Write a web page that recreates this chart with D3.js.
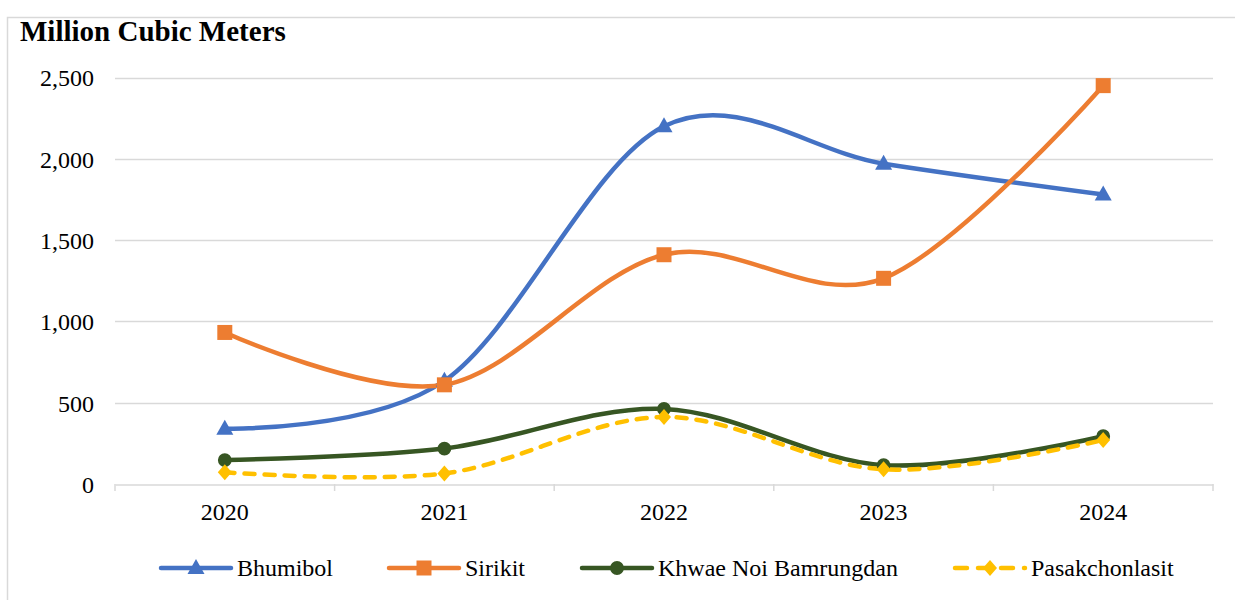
<!DOCTYPE html>
<html><head><meta charset="utf-8">
<script src="https://cdn.jsdelivr.net/npm/d3@7"></script>
<style>body{margin:0;background:#fff}svg{display:block}text{font-family:"Liberation Serif","Times New Roman",serif;fill:#000}</style>
</head><body><svg id="c" width="1235" height="600"></svg>
<script>
const years = ["2020","2021","2022","2023","2024"];
const bhumibol = [340, 635, 2200, 1970, 1780];
const sirikit = [932, 610, 1410, 1265, 2450];
const khwaeNoi = [147, 218, 462, 116, 294];
const pasak = [72, 65, 412, 90, 270];
const yTicks = [0, 500, 1000, 1500, 2000, 2500];
const seriesNames = ["Bhumibol","Sirikit","Khwae Noi Bamrungdan","Pasakchonlasit"];

const series = [
  {name: seriesNames[0], values: bhumibol, color: "#4472C4", marker: "triangle"},
  {name: seriesNames[1], values: sirikit, color: "#ED7D31", marker: "square"},
  {name: seriesNames[2], values: khwaeNoi, color: "#375623", marker: "circle"},
  {name: seriesNames[3], values: pasak, color: "#FFC000", marker: "diamond", dash: "10,10"}
];

const svg = d3.select("#c");
svg.append("path").attr("d","M7.5,600V17.5H1235").attr("fill","none").attr("stroke","#D9D9D9").attr("stroke-width",1.5);

svg.append("text").attr("x",20).attr("y",41).attr("font-size",29).attr("font-weight","bold").text("Million Cubic Meters");

const x = d3.scaleBand().domain(years).range([115, 1213]);
const y = d3.scaleLinear().domain([0, 2500]).range([484, 77.5]);

svg.append("g").selectAll("line").data(yTicks.filter(d=>d>0)).join("line")
  .attr("x1",115).attr("x2",1213).attr("y1",d=>Math.round(y(d))+0.5).attr("y2",d=>Math.round(y(d))+0.5)
  .attr("stroke","#D9D9D9").attr("stroke-width",1.5);

const ya = svg.append("g").attr("transform","translate(94,0)")
  .call(d3.axisLeft(y).tickValues(yTicks).tickSize(0).tickPadding(0).tickFormat(d3.format(",")));
ya.select(".domain").remove();
ya.selectAll("text").attr("font-size",24).attr("fill","#000").attr("dy","0.35em");

const xa = svg.append("g").attr("transform","translate(0,484.5)")
  .call(d3.axisBottom(x).tickSize(0).tickPadding(18));
xa.select(".domain").attr("stroke","#D9D9D9").attr("stroke-width",1.5);
xa.selectAll("text").attr("font-size",24).attr("fill","#000");
const bounds = years.map(d=>x(d)).concat([x(years[4])+x.bandwidth()]);
svg.append("g").selectAll("line").data(bounds).join("line")
  .attr("x1",d=>d).attr("x2",d=>d).attr("y1",484).attr("y2",491)
  .attr("stroke","#D9D9D9").attr("stroke-width",1.5);

const cx = i => x(years[i]) + x.bandwidth()/2;
const line = d3.line().x((d,i)=>cx(i)).y(d=>y(d)).curve(d3.curveCardinal.tension(0));

function markerPath(type){
  if(type==="triangle") return "M0,-9L8.5,6L-8.5,6Z";
  if(type==="square") return "M-7.5,-7.5H7.5V7.5H-7.5Z";
  if(type==="diamond") return "M0,-8L7,0L0,8L-7,0Z";
  return d3.symbol(d3.symbolCircle, 150)();
}

series.forEach(s=>{
  svg.append("path").datum(s.values).attr("d",line).attr("fill","none")
    .attr("stroke",s.color).attr("stroke-width",4.5).attr("stroke-linecap","round")
    .attr("stroke-dasharray",s.dash||null);
});
series.forEach(s=>{
  svg.append("g").selectAll("path").data(s.values).join("path")
    .attr("transform",(d,i)=>`translate(${cx(i)},${y(d)})`)
    .attr("d",markerPath(s.marker)).attr("fill",s.color);
});

const legX = [161, 389, 582, 955];
const lg = svg.append("g");
series.forEach((s,i)=>{
  const g = lg.append("g").attr("transform",`translate(${legX[i]},568)`);
  g.append("line").attr("x1",0).attr("x2",70).attr("y1",0).attr("y2",0)
    .attr("stroke",s.color).attr("stroke-width",4.5).attr("stroke-linecap","round")
    .attr("stroke-dasharray",s.dash?"12,11":null);
  g.append("path").attr("transform","translate(35,0)").attr("d",markerPath(s.marker)).attr("fill",s.color);
  g.append("text").attr("x",76).attr("y",0).attr("dy","0.35em").attr("font-size",24).text(s.name);
});
</script></body></html>
